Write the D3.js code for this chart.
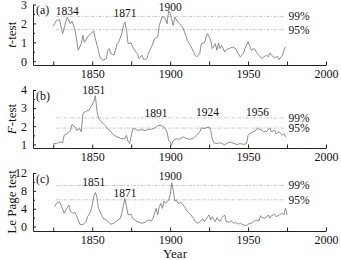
<!DOCTYPE html>
<html>
<head>
<meta charset="utf-8">
<script src="https://cdn.jsdelivr.net/npm/d3@7"></script>
<style>
body { margin: 0; background: #fff; }
svg text { font-family: "Liberation Serif", "Times New Roman", serif; fill: #111; }
</style>
</head>
<body>
<div id="chart"></div>
<script>
// (a) t-test
var tYears = [1825,1827,1829,1831,1833,1834,1836,1837,1839,1841,1843,1844,1845,1847,1849,1851,1852,1854,1855,1857,1859,1860,1861,1862,1864,1866,1867,1869,1870,1871,1872,1873,1875,1876,1878,1879,1880,1882,1883,1885,1886,1888,1890,1892,1893,1895,1897,1898,1899,1900,1902,1903,1905,1906,1908,1910,1911,1913,1914,1916,1917,1919,1920,1922,1923,1924,1926,1927,1929,1930,1931,1932,1933,1935,1936,1938,1940,1942,1943,1945,1947,1948,1950,1951,1952,1954,1956,1957,1959,1960,1962,1963,1964,1966,1967,1969,1970,1972,1973,1974];
var tValues = [1.84,2.16,2.20,1.46,2.07,2.33,1.98,2.12,1.63,0.58,0.93,1.37,1.00,1.28,1.46,1.60,1.19,0.58,0.19,0.05,0.14,0.58,0.67,0.40,0.32,0.93,1.02,1.46,1.89,2.07,1.63,0.93,0.97,0.75,0.49,0.40,0.14,0.32,0.09,0.14,0.40,0.75,1.19,1.28,1.89,2.37,2.25,1.98,2.65,2.54,1.89,2.33,2.07,1.98,1.81,1.37,1.11,0.84,0.67,0.32,0.23,0.40,0.93,0.97,1.28,1.46,1.11,0.67,0.93,0.58,0.97,0.67,0.84,0.49,0.62,0.67,0.75,0.67,0.49,0.23,0.40,0.67,1.02,0.84,0.58,0.67,0.40,0.32,0.14,0.23,0.32,0.23,0.44,0.23,0.19,0.25,0.09,0.32,0.58,0.75];
var tCritical = [2.37, 1.67];
var tPeakYears = [1834, 1871, 1900];
var tPeakLevels = [2.42, 2.33, 2.68];

// (b) F-test
var fYears = [1825,1827,1829,1831,1832,1834,1836,1837,1839,1840,1842,1843,1844,1846,1848,1849,1851,1852,1853,1854,1856,1858,1860,1862,1864,1866,1869,1871,1872,1873,1874,1876,1877,1879,1882,1884,1886,1888,1890,1892,1894,1896,1898,1899,1900,1901,1902,1904,1906,1908,1911,1913,1915,1917,1919,1920,1922,1923,1925,1926,1927,1928,1930,1932,1935,1937,1939,1941,1943,1945,1947,1949,1950,1951,1953,1955,1956,1957,1959,1960,1962,1964,1965,1967,1968,1970,1972,1973,1974];
var fValues = [1.04,1.04,1.13,1.10,1.50,1.59,1.78,2.09,1.96,1.78,1.87,1.69,2.70,2.83,2.89,3.07,3.35,3.68,2.89,2.43,2.24,2.06,1.87,1.69,1.50,1.41,1.31,1.31,1.50,1.17,1.04,1.87,1.87,1.78,1.81,1.76,1.83,1.83,1.91,2.02,2.06,1.96,1.69,1.22,1.13,0.98,1.22,1.31,1.28,1.41,1.31,1.28,1.35,1.50,1.69,1.91,1.87,1.91,1.96,1.78,1.31,1.09,1.04,1.09,0.98,1.09,1.13,1.04,1.00,1.04,1.00,1.04,1.50,1.59,1.69,1.78,1.91,1.83,1.78,1.69,1.72,1.91,1.69,1.78,1.59,1.69,1.50,1.59,1.41];
var fCritical = [2.46, 1.90];
var fPeakYears = [1851, 1891, 1924, 1956];
var fPeakLevels = [3.76, 2.53, 2.58, 2.58];

// (c) Le Page test
var lYears = [1826,1827,1829,1830,1832,1833,1835,1836,1838,1839,1841,1842,1844,1846,1847,1849,1850,1851,1852,1853,1854,1856,1857,1859,1861,1862,1864,1865,1868,1869,1870,1871,1872,1873,1875,1876,1878,1880,1882,1884,1886,1888,1889,1891,1892,1893,1894,1895,1896,1897,1899,1900,1901,1902,1903,1904,1905,1907,1908,1910,1911,1913,1915,1916,1918,1919,1921,1922,1924,1925,1926,1927,1929,1930,1932,1933,1935,1936,1938,1939,1941,1942,1944,1945,1947,1949,1950,1952,1953,1955,1957,1958,1959,1961,1963,1964,1965,1967,1968,1970,1972,1973,1974,1975];
var lValues = [4.50,5.19,5.56,4.80,2.96,3.70,4.80,3.33,2.96,3.19,1.48,0.52,0.37,1.10,2.20,3.33,4.80,6.67,7.63,6.67,4.07,2.60,1.85,1.48,0.74,0.52,0.74,1.10,1.85,2.96,4.80,6.30,4.44,2.60,2.74,1.85,1.26,0.96,0.74,0.96,1.48,1.26,1.85,4.07,2.60,4.44,5.19,4.07,5.70,5.19,5.93,7.04,9.78,8.15,5.70,5.93,5.19,5.41,4.96,4.07,3.33,2.74,1.85,1.10,0.74,1.10,1.70,1.10,2.20,2.60,1.48,2.20,1.10,2.00,1.10,1.85,2.60,1.10,0.96,1.26,0.74,0.96,0.52,0.74,0.37,0.22,0.52,0.74,0.96,1.48,1.26,2.44,2.00,1.85,2.60,1.85,2.44,2.74,2.20,2.60,2.96,2.60,4.07,2.60];
var lCritical = [9.21, 5.99];
var lPeakYears = [1851, 1871, 1900];
var lPeakLevels = [9.09, 6.62, 10.36];

var critLabels = ["99%", "95%"];
var yearTicks = [1825, 1850, 1875, 1900, 1925, 1950, 1975, 2000];
var yearLabels = [1850, 1900, 1950, 2000];

var width = 341, height = 260;

var svg = d3.select("#chart")
  .append("svg")
  .attr("width", width)
  .attr("height", height);

var x = d3.scaleLinear()
  .domain([1812, 2000])
  .range([33, 326]);

var panels = [
  {tag: "(a)", years: tYears, values: tValues, crit: tCritical, peaks: tPeakYears, levels: tPeakLevels,
   domain: [-0.2, 3], top: 4.5, bottom: 65, ticks: [0, 1, 2, 3], minor: [0.5, 1.5, 2.5], title: ["t", "-test"]},
  {tag: "(b)", years: fYears, values: fValues, crit: fCritical, peaks: fPeakYears, levels: fPeakLevels,
   domain: [0.8, 4], top: 90, bottom: 148, ticks: [1, 2, 3, 4], minor: [1.5, 2.5, 3.5], title: ["F", "-test"]},
  {tag: "(c)", years: lYears, values: lValues, crit: lCritical, peaks: lPeakYears, levels: lPeakLevels,
   domain: [-1, 12], top: 173, bottom: 231, ticks: [0, 4, 8, 12], minor: [2, 6, 10], title: ["", "Le Page test"]}
];

panels.forEach(function(p) {

  var y = d3.scaleLinear()
    .domain(p.domain)
    .range([p.bottom, p.top]);

  var g = svg.append("g");

  // significance levels
  g.selectAll(".crit")
    .data(p.crit)
    .enter().append("line")
    .attr("x1", x(1827))
    .attr("x2", x(1973))
    .attr("y1", function(d) { return y(d); })
    .attr("y2", function(d) { return y(d); })
    .attr("stroke", "#b4b4b4")
    .attr("stroke-width", 0.8)
    .style("stroke-dasharray", "3,1.5,1,1.5");

  g.selectAll(".critLabel")
    .data(p.crit)
    .enter().append("text")
    .attr("x", x(1976))
    .attr("y", function(d, i) { return y(d) + 4; })
    .style("font-size", "11.5px")
    .text(function(d, i) { return critLabels[i]; });

  var line = d3.line()
    .x(function(d, i) { return x(p.years[i]); })
    .y(function(d) { return y(d); });

  g.append("path")
    .datum(p.values)
    .attr("d", line)
    .attr("fill", "none")
    .attr("stroke", "#808080")
    .attr("stroke-width", 0.9);

  // x axis
  g.append("g")
    .attr("transform", "translate(0," + p.bottom + ")")
    .call(d3.axisBottom(x)
      .tickValues(yearTicks)
      .tickSizeInner(-3.5)
      .tickSizeOuter(0)
      .tickPadding(4.5)
      .tickFormat(function(d) { return yearLabels.indexOf(d) >= 0 ? d : ""; }))
    .call(function(a) {
      a.selectAll("text").style("font-size", "12px").style("font-family", "Liberation Serif, serif").attr("fill", "#111");
      a.selectAll("line, path").attr("stroke", "#222");
    });

  // y axis
  g.append("g")
    .attr("transform", "translate(" + x(1812) + ",0)")
    .call(d3.axisLeft(y)
      .tickValues(p.ticks)
      .tickSizeInner(-3)
      .tickSizeOuter(0)
      .tickPadding(6)
      .tickFormat(d3.format("d")))
    .call(function(a) {
      a.selectAll("text").style("font-size", "12px").style("font-family", "Liberation Serif, serif").attr("fill", "#111");
      a.selectAll("line, path").attr("stroke", "#222");
    });

  g.append("g")
    .attr("transform", "translate(" + x(1812) + ",0)")
    .call(d3.axisLeft(y).tickValues(p.minor).tickSizeInner(-2).tickSizeOuter(0).tickFormat(""))
    .call(function(a) {
      a.select(".domain").remove();
      a.selectAll("line").attr("stroke", "#222");
    });

  // panel tag
  g.append("text")
    .attr("x", x(1812) + 3)
    .attr("y", p.top + 9.5)
    .style("font-size", "12px")
    .text(p.tag);

  // peak years
  g.selectAll(".peak")
    .data(p.peaks)
    .enter().append("text")
    .attr("x", function(d) { return x(d); })
    .attr("y", function(d, i) { return y(p.levels[i]); })
    .attr("text-anchor", "middle")
    .style("font-size", "11.5px")
    .text(function(d) { return d; });

  // y title
  var title = g.append("text")
    .attr("transform", "translate(16," + ((p.top + p.bottom) / 2) + ") rotate(-90)")
    .attr("text-anchor", "middle")
    .style("font-size", "13px");
  title.append("tspan").style("font-style", "italic").text(p.title[0]);
  title.append("tspan").text(p.title[1]);
});

svg.append("text")
  .attr("x", 175)
  .attr("y", 258)
  .attr("text-anchor", "middle")
  .style("font-size", "13px")
  .text("Year");
</script>
</body>
</html>
